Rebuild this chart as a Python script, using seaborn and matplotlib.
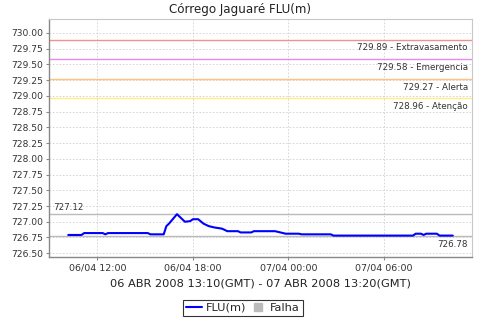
import matplotlib
matplotlib.use("Agg")
import matplotlib.pyplot as plt
import matplotlib.dates as mdates
from matplotlib.lines import Line2D
import seaborn as sns
import pandas as pd

# ---- data ----
times = [
    "2008-04-06 10:10", "2008-04-06 11:00", "2008-04-06 11:10", "2008-04-06 12:20",
    "2008-04-06 12:30", "2008-04-06 12:40", "2008-04-06 15:10", "2008-04-06 15:20",
    "2008-04-06 16:10", "2008-04-06 16:20", "2008-04-06 16:30", "2008-04-06 17:00",
    "2008-04-06 17:30", "2008-04-06 17:50", "2008-04-06 18:00", "2008-04-06 18:20",
    "2008-04-06 18:40", "2008-04-06 19:00", "2008-04-06 19:20", "2008-04-06 19:50",
    "2008-04-06 20:10", "2008-04-06 20:50", "2008-04-06 21:00", "2008-04-06 21:40",
    "2008-04-06 21:50", "2008-04-06 23:10", "2008-04-06 23:30", "2008-04-06 23:50",
    "2008-04-07 00:40", "2008-04-07 00:50", "2008-04-07 02:40", "2008-04-07 02:50",
    "2008-04-07 07:50", "2008-04-07 08:00", "2008-04-07 08:20", "2008-04-07 08:30",
    "2008-04-07 08:40", "2008-04-07 09:20", "2008-04-07 09:30", "2008-04-07 10:20",
]
levels = [
    726.79, 726.79, 726.82, 726.82,
    726.80, 726.82, 726.82, 726.80,
    726.80, 726.93, 726.97, 727.12,
    727.00, 727.01, 727.04, 727.04,
    726.97, 726.93, 726.91, 726.89,
    726.85, 726.85, 726.83, 726.83,
    726.85, 726.85, 726.83, 726.81,
    726.81, 726.80, 726.80, 726.78,
    726.78, 726.81, 726.81, 726.79,
    726.81, 726.81, 726.78, 726.78,
]
threshold_values = [729.89, 729.58, 729.27, 728.96]
threshold_names = ["Extravasamento", "Emergencia", "Alerta", "Atenção"]
threshold_colors = ["#F09090", "#EE88EE", "#FFC080", "#FFEE80"]
max_value = 727.12
min_value = 726.78
ytick_values = [726.50, 726.75, 727.00, 727.25, 727.50, 727.75, 728.00, 728.25,
                728.50, 728.75, 729.00, 729.25, 729.50, 729.75, 730.00]
xtick_times = ["2008-04-06 12:00", "2008-04-06 18:00", "2008-04-07 00:00", "2008-04-07 06:00"]
title = "Córrego Jaguaré FLU(m)"
xlabel = "06 ABR 2008 13:10(GMT) - 07 ABR 2008 13:20(GMT)"
legend_labels = ["FLU(m)", "Falha"]

df = pd.DataFrame({"time": pd.to_datetime(times), "level": levels})

sns.set_theme(style="white")
plt.rcParams["font.family"] = ["DejaVu Sans"]

fig = plt.figure(figsize=(4.8, 3.2), dpi=100)
ax = fig.add_axes([49 / 480, 1 - 257 / 320, (472 - 49) / 480, (257 - 19) / 320])

sns.lineplot(data=df, x="time", y="level", ax=ax, color="#0000FF", linewidth=1.5, legend=False)

# x range: data +/- 5%
t0, t1 = df["time"].min(), df["time"].max()
span = t1 - t0
ax.set_xlim(t0 - span * 0.05, t1 + span * 0.05)
ax.set_ylim(726.44, 730.22)

# thresholds
for v, n, c in zip(threshold_values, threshold_names, threshold_colors):
    ax.axhline(v, color=c, linewidth=1.0, zorder=1)
    ax.text(0.99, v - 0.13, f"{v:.2f} - {n}", transform=ax.get_yaxis_transform(),
            ha="right", va="center", fontsize=6.3, color="#333333")

# max / min markers
ax.axhline(max_value, color="#BBBBBB", linewidth=1.0, zorder=1)
ax.axhline(min_value, color="#BBBBBB", linewidth=1.0, zorder=1)
ax.text(0.01, max_value + 0.11, f"{max_value:.2f}", transform=ax.get_yaxis_transform(),
        ha="left", va="center", fontsize=6.3, color="#333333")
ax.text(0.99, min_value - 0.14, f"{min_value:.2f}", transform=ax.get_yaxis_transform(),
        ha="right", va="center", fontsize=6.3, color="#333333")

ax.set_yticks(ytick_values)
ax.set_yticklabels([f"{v:.2f}" for v in ytick_values], fontsize=6.6, color="#333333")
ax.set_xticks(pd.to_datetime(xtick_times))
ax.xaxis.set_major_formatter(mdates.DateFormatter("%d/%m %H:%M"))
ax.tick_params(axis="x", labelsize=6.8, colors="#333333", length=2, width=0.8, pad=3)
ax.tick_params(axis="y", labelsize=6.6, colors="#333333", length=2, width=0.8, pad=2)
ax.tick_params(axis="both", which="both", direction="out", left=True, bottom=True, color="#888888")

ax.grid(True, color="#D0D0D0", linestyle=(0, (2, 2)), linewidth=0.6)
ax.set_axisbelow(True)

for side in ["top", "right"]:
    ax.spines[side].set_color("#C8C8C8")
    ax.spines[side].set_linewidth(0.8)
for side in ["left", "bottom"]:
    ax.spines[side].set_color("#888888")
    ax.spines[side].set_linewidth(1.0)

ax.set_ylabel("")
ax.set_xlabel(xlabel, fontsize=8.2, color="#222222", labelpad=4)

fig.text(240 / 480, 1 - 9 / 320, title, ha="center", va="center", fontsize=8.6, color="#222222")

handles = [
    Line2D([0], [0], color="#0000FF", linewidth=1.5),
    Line2D([0], [0], color="#BBBBBB", marker="s", linestyle="none", markersize=5.5),
]
leg = fig.legend(handles, legend_labels, loc="center", bbox_to_anchor=(243 / 480, 1 - 308 / 320),
                 ncol=2, fontsize=8.2, frameon=True, fancybox=False, handlelength=1.4,
                 handletextpad=0.35, columnspacing=0.3, borderpad=0.25, borderaxespad=0)
leg.get_frame().set_edgecolor("#000000")
leg.get_frame().set_linewidth(0.8)

fig.savefig("out.png", dpi=100, facecolor="white")
